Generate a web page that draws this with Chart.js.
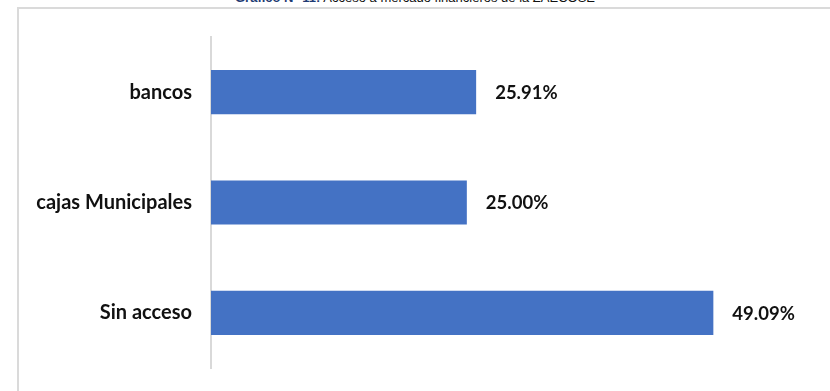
<!DOCTYPE html>
<html>
<head>
<meta charset="utf-8">
<script src="https://cdn.jsdelivr.net/npm/chart.js@4"></script>
<style>
  body { margin: 0; background: #fff; overflow: hidden; }
  #wrap { position: relative; width: 830px; height: 391px; }
  #frame { position: absolute; left: 17px; top: 7px; width: 830px; height: 400px; border: 2px solid #dadada; box-sizing: border-box; }
  #title { position: absolute; top: -10px; left: 0; width: 830px; text-align: center; font: 13px "Liberation Sans", Arial, sans-serif; color: #111; white-space: nowrap; }
  #title b { color: #1f3b73; }
  canvas { position: absolute; left: 0; top: 0; }
</style>
</head>
<body>
<div id="wrap">
  <div id="frame"></div>
  <div id="title"><b>Gráfico N° 11:</b> Acceso a mercado financieros de la ZAECOSE</div>
  <canvas id="chart" width="830" height="391"></canvas>
</div>
<script>
const categories = ['bancos', 'cajas Municipales', 'Sin acceso'];
const values = [25.91, 25.00, 49.09];

const labelFont = { family: "Lato, 'Open Sans', sans-serif", size: 20, weight: 'bold' };
const valueFont = { family: "Lato, 'Open Sans', sans-serif", size: 18.5 };

// draw the percentages at the end of each bar
const valueLabels = {
  id: 'valueLabels',
  afterDatasetsDraw(chart) {
    const ctx = chart.ctx;
    const meta = chart.getDatasetMeta(0);
    ctx.save();
    ctx.font = `bold ${valueFont.size}px ${valueFont.family}`;
    ctx.fillStyle = '#111';
    ctx.textAlign = 'left';
    ctx.textBaseline = 'middle';
    meta.data.forEach((bar, i) => {
      ctx.fillText(values[i].toFixed(2) + '%', bar.x + 19, bar.y + 1);
    });
    ctx.restore();
  }
};

new Chart(document.getElementById('chart'), {
  type: 'bar',
  data: {
    labels: categories,
    datasets: [{
      data: values,
      backgroundColor: '#4472c4',
      barPercentage: 0.4,
      categoryPercentage: 1
    }]
  },
  options: {
    indexAxis: 'y',
    responsive: false,
    animation: false,
    layout: { padding: { top: 37, bottom: 23, right: 5, left: 0 } },
    plugins: { legend: { display: false }, tooltip: { enabled: false } },
    scales: {
      x: { min: 0, max: 60, display: false },
      y: {
        afterFit: (scale) => { scale.width = 211; },
        grid: { display: false },
        border: { display: true, color: '#d9d9d9', width: 2 },
        ticks: { color: '#111', font: labelFont, padding: 11 }
      }
    }
  },
  plugins: [valueLabels]
});
</script>
</body>
</html>
